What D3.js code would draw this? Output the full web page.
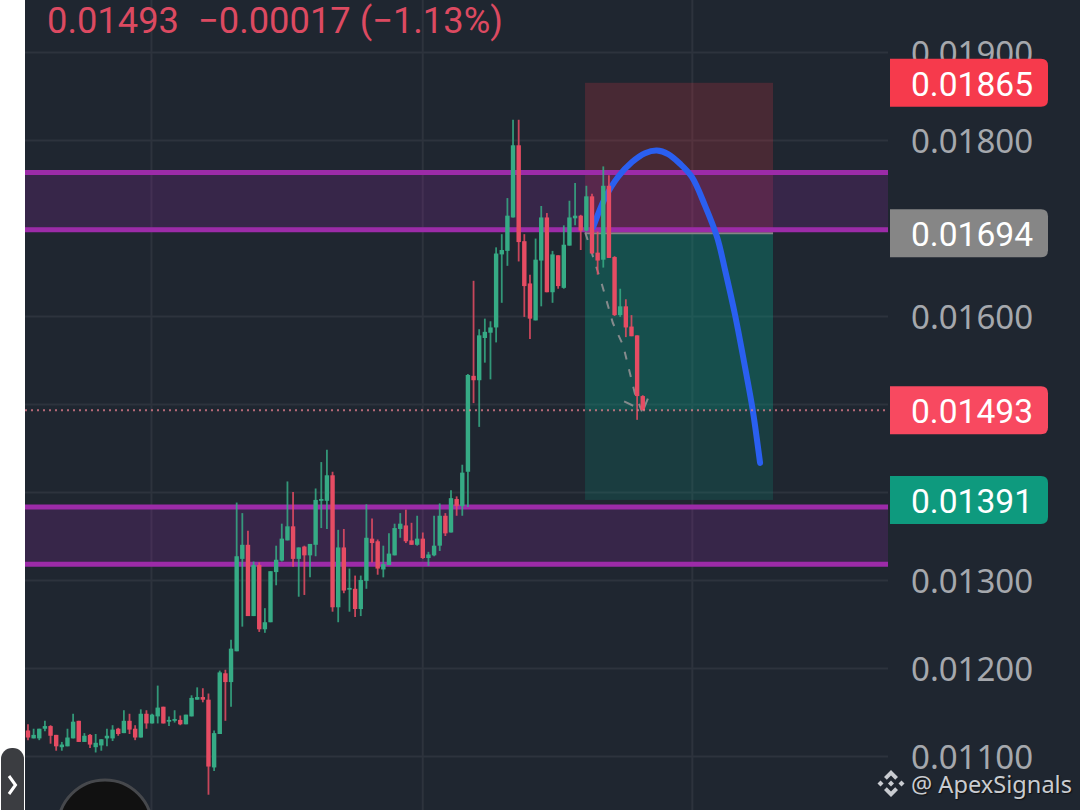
<!DOCTYPE html>
<html lang="en">
<head>
<meta charset="utf-8">
<title>ApexSignals short setup</title>
<script src="https://d3js.org/d3.v7.min.js"></script>
<style>
	body { margin: 0; background: #fff; overflow: hidden; }
	svg { display: block; }
	.ylabels text { font-family: "Noto Sans"; font-size: 33px; fill: #a5a8ad; }
	.ylabels path { display: none; }
	.grid path { display: none; }
	.grid line { stroke: #2d333d; stroke-width: 2; }
	.grid text { display: none; }
</style>
</head>
<body>
<script>
// candles
var opens = [0.01129,0.01120,0.01120,0.01131,0.01134,0.01124,0.01110,0.01111,0.01120,0.01140,
	0.01116,0.01124,0.01110,0.01112,0.01120,0.01120,0.01131,0.01126,0.01140,0.01131,
	0.01121,0.01148,0.01137,0.01145,0.01156,0.01139,0.01140,0.01141,0.01136,0.01145,
	0.01164,0.01167,0.01164,0.01087,0.01125,0.01194,0.01184,0.01219,0.01324,0.01340,
	0.01259,0.01317,0.01244,0.01252,0.01309,0.01322,0.01345,0.01361,0.01324,0.01338,
	0.01328,0.01340,0.01390,0.01390,0.01419,0.01269,0.01337,0.01289,0.01290,0.01267,
	0.01299,0.01347,0.01344,0.01312,0.01317,0.01328,0.01358,0.01362,0.01345,0.01340,
	0.01347,0.01325,0.01328,0.01339,0.01373,0.01354,0.01392,0.01384,0.01423,0.01532,
	0.01527,0.01575,0.01581,0.01587,0.01670,0.01674,0.01712,0.01794,0.01685,0.01637,
	0.01595,0.01663,0.01712,0.01627,0.01669,0.01632,0.01680,0.01711,0.01714,0.01697,
	0.01736,0.01672,0.01664,0.01748,0.01667,0.01601,0.01611,0.01588,0.01578,0.01509];
var highs = [0.01136,0.01131,0.01131,0.01140,0.01135,0.01124,0.01116,0.01131,0.01148,0.01140,
	0.01126,0.01125,0.01125,0.01119,0.01131,0.01135,0.01132,0.01152,0.01148,0.01135,
	0.01153,0.01152,0.01148,0.01180,0.01156,0.01145,0.01152,0.01146,0.01147,0.01169,
	0.01178,0.01177,0.01171,0.01129,0.01197,0.01198,0.01232,0.01388,0.01376,0.01356,
	0.01321,0.01320,0.01268,0.01310,0.01339,0.01364,0.01412,0.01400,0.01337,0.01339,
	0.01341,0.01404,0.01434,0.01448,0.01423,0.01357,0.01358,0.01313,0.01305,0.01305,
	0.01386,0.01370,0.01346,0.01339,0.01353,0.01364,0.01376,0.01380,0.01365,0.01373,
	0.01354,0.01332,0.01373,0.01387,0.01376,0.01402,0.01395,0.01431,0.01534,0.01640,
	0.01585,0.01597,0.01594,0.01678,0.01693,0.01734,0.01823,0.01823,0.01693,0.01647,
	0.01688,0.01725,0.01717,0.01674,0.01669,0.01703,0.01731,0.01751,0.01715,0.01748,
	0.01739,0.01696,0.01770,0.01760,0.01668,0.01631,0.01619,0.01601,0.01578,0.01510];
var lows = [0.01118,0.01120,0.01118,0.01128,0.01114,0.01106,0.01106,0.01111,0.01120,0.01116,
	0.01116,0.01109,0.01104,0.01106,0.01111,0.01117,0.01123,0.01126,0.01125,0.01118,
	0.01121,0.01131,0.01137,0.01137,0.01137,0.01134,0.01138,0.01135,0.01136,0.01145,
	0.01164,0.01161,0.01056,0.01083,0.01125,0.01140,0.01156,0.01219,0.01247,0.01259,
	0.01259,0.01241,0.01240,0.01252,0.01294,0.01321,0.01345,0.01315,0.01281,0.01283,
	0.01303,0.01327,0.01359,0.01358,0.01264,0.01252,0.01285,0.01264,0.01258,0.01259,
	0.01290,0.01320,0.01306,0.01303,0.01317,0.01328,0.01348,0.01342,0.01340,0.01339,
	0.01324,0.01316,0.01327,0.01333,0.01350,0.01354,0.01373,0.01373,0.01383,0.01501,
	0.01474,0.01547,0.01528,0.01570,0.01615,0.01657,0.01712,0.01662,0.01599,0.01574,
	0.01595,0.01611,0.01627,0.01615,0.01631,0.01631,0.01680,0.01703,0.01675,0.01696,
	0.01671,0.01647,0.01655,0.01666,0.01600,0.01599,0.01576,0.01577,0.01482,0.01493];
var closes = [0.01121,0.01124,0.01131,0.01134,0.01123,0.01111,0.01113,0.01121,0.01139,0.01116,
	0.01123,0.01113,0.01115,0.01119,0.01123,0.01130,0.01125,0.01140,0.01130,0.01121,
	0.01148,0.01137,0.01147,0.01155,0.01137,0.01141,0.01142,0.01136,0.01147,0.01166,
	0.01167,0.01164,0.01088,0.01126,0.01195,0.01184,0.01222,0.01327,0.01340,0.01259,
	0.01317,0.01244,0.01252,0.01310,0.01323,0.01347,0.01361,0.01324,0.01337,0.01328,
	0.01341,0.01391,0.01392,0.01419,0.01269,0.01337,0.01288,0.01291,0.01267,0.01300,
	0.01348,0.01342,0.01313,0.01318,0.01330,0.01359,0.01364,0.01344,0.01340,0.01347,
	0.01325,0.01329,0.01339,0.01373,0.01353,0.01393,0.01384,0.01422,0.01533,0.01527,
	0.01578,0.01582,0.01587,0.01671,0.01675,0.01714,0.01794,0.01684,0.01634,0.01597,
	0.01664,0.01712,0.01627,0.01670,0.01634,0.01681,0.01712,0.01714,0.01697,0.01736,
	0.01671,0.01663,0.01748,0.01666,0.01601,0.01611,0.01587,0.01577,0.01509,0.01493];

var yTicks = [0.01100,0.01200,0.01300,0.01400,0.01500,0.01600,0.01700,0.01800,0.01900];
var yLabelTicks = [0.01100,0.01200,0.01300,0.01600,0.01800,0.01900];
var xGrid = [21.8,69.9,117.7];

// support / resistance zones: [top, bottom]
var zoneUpper = [0.01763,0.01698];
var zoneLower = [0.01383,0.01318];

// short position tool
var stopPrice = 0.01865, entryPrice = 0.01694, targetPrice = 0.01391, lastPrice = 0.01493;
var posStart = 98.76, posEnd = 132.1;

// projected path (blue)
var curveIdx = [100.2,102.3,104.6,107.1,109.4,111.5,113.5,115.6,117.7,120,122.2,123.6,125.4,127.3,128.5,129.8];
var curvePrice = [0.01701,0.01734,0.01758,0.01775,0.01785,0.01788,0.01784,0.01773,0.01758,0.01726,0.01689,0.01652,0.01600,0.01536,0.01493,0.01433];

// dashed arrow
var arrowIdx = [98.8,101.8,103.7,105.5,107.6,108.9];
var arrowPrice = [0.01695,0.01635,0.01592,0.01567,0.01512,0.01491];
var headIdx = [[105.7,107.3],[109.9,109.2]];
var headPrice = [[0.01503,0.01498],[0.01506,0.01495]];

// right hand price tags
var tagValues = [stopPrice,entryPrice,lastPrice,targetPrice];
var tagColors = ["#f63a4c","#868686","#f84960","#0e9a7e"];

var width = 1080, height = 810;
var left = 25, right = 888;

var svg = d3.select("body").append("svg")
	.attr("width", width)
	.attr("height", height);

var x = d3.scaleLinear().domain([-0.53,152.48]).range([left,right]);
var y = d3.scaleLinear().domain([0.01100,0.01900]).range([756,52]);
var fmt = d3.format(".5f");

svg.append("rect").attr("x",left).attr("y",0).attr("width",width-left).attr("height",height).attr("fill","#1f2630");

// grid
svg.append("g").attr("class","grid")
	.attr("transform","translate(0,0)")
	.call(d3.axisBottom(x).tickValues(xGrid).tickSize(height).tickFormat(""));
svg.append("g").attr("class","grid")
	.attr("transform","translate("+right+",0)")
	.call(d3.axisLeft(y).tickValues(yTicks).tickSize(right-left).tickFormat(""));

// position boxes
var posW = x(posEnd)-x(posStart);
svg.append("rect").attr("x",x(posStart)).attr("width",posW)
	.attr("y",y(stopPrice)).attr("height",y(entryPrice)-y(stopPrice))
	.attr("fill","#f23645").attr("fill-opacity",0.2);
svg.append("rect").attr("x",x(posStart)).attr("width",posW)
	.attr("y",y(entryPrice)).attr("height",y(targetPrice)-y(entryPrice))
	.attr("fill","#089981").attr("fill-opacity",0.2);
svg.append("rect").attr("x",x(posStart)).attr("width",posW)
	.attr("y",y(entryPrice)).attr("height",y(lastPrice)-y(entryPrice))
	.attr("fill","#089981").attr("fill-opacity",0.2);
svg.append("line").attr("x1",x(posStart)).attr("x2",x(posEnd))
	.attr("y1",y(entryPrice)).attr("y2",y(entryPrice))
	.attr("stroke","#868686").attr("stroke-width",2);

// purple zones
[zoneUpper,zoneLower].forEach(function(z) {
	svg.append("rect").attr("x",left).attr("width",right-left)
		.attr("y",y(z[0])).attr("height",y(z[1])-y(z[0]))
		.attr("fill","#9c27b0").attr("fill-opacity",0.2);
	z.forEach(function(v) {
		svg.append("line").attr("x1",left).attr("x2",right)
			.attr("y1",y(v)).attr("y2",y(v))
			.attr("stroke","#9c2ba8").attr("stroke-width",5);
	});
});

// blue projection, under the candles
svg.append("path")
	.attr("d", d3.line()
		.x(function(d) { return x(d[0]); })
		.y(function(d) { return y(d[1]); })
		.curve(d3.curveCatmullRom)(d3.zip(curveIdx,curvePrice)))
	.attr("fill","none").attr("stroke","#2a5ff0")
	.attr("stroke-width",6).attr("stroke-linecap","round");

// dashed arrow
var arrowLine = d3.line()
	.x(function(d) { return x(d[0]); })
	.y(function(d) { return y(d[1]); });
svg.append("path")
	.attr("d", arrowLine(d3.zip(arrowIdx,arrowPrice)))
	.attr("fill","none").attr("stroke","#858a8c")
	.attr("stroke-width",2).attr("stroke-dasharray","8,10");
headIdx.forEach(function(h,k) {
	svg.append("path")
		.attr("d", arrowLine(d3.zip(h,headPrice[k])))
		.attr("fill","none").attr("stroke","#858a8c").attr("stroke-width",2);
});

// candles
var upColor = "#36ab85", downColor = "#e64c63";
function candleColor(i) { return closes[i] >= opens[i] ? upColor : downColor; }

svg.selectAll(".wick")
	.data(closes)
	.enter()
	.append("line")
	.attr("class","wick")
	.attr("x1", function(d,i) { return x(i); })
	.attr("x2", function(d,i) { return x(i); })
	.attr("y1", function(d,i) { return y(highs[i]); })
	.attr("y2", function(d,i) { return y(lows[i]); })
	.attr("stroke", function(d,i) { return candleColor(i); })
	.attr("stroke-width",1.8)
	.attr("stroke-opacity",0.85);

svg.selectAll(".body")
	.data(closes)
	.enter()
	.append("rect")
	.attr("class","body")
	.attr("x", function(d,i) { return x(i)-2.2; })
	.attr("width",4.4)
	.attr("y", function(d,i) { return y(Math.max(opens[i],closes[i])); })
	.attr("height", function(d,i) { return Math.max(1.5, Math.abs(y(opens[i])-y(closes[i]))); })
	.attr("fill", function(d,i) { return candleColor(i); });

// last price line
svg.append("line").attr("x1",left).attr("x2",right)
	.attr("y1",y(lastPrice)).attr("y2",y(lastPrice))
	.attr("stroke","#e9808f").attr("stroke-opacity",0.75)
	.attr("stroke-width",2).attr("stroke-dasharray","2,4");

// y axis labels
svg.append("g").attr("class","ylabels")
	.attr("transform","translate("+right+",0)")
	.call(d3.axisRight(y).tickValues(yLabelTicks).tickFormat(fmt).tickSize(0).tickPadding(23))
	.selectAll("text").attr("text-anchor","start").attr("dy","0.37em");

// price tags
tagValues.forEach(function(v,i) {
	var top = y(v)-24, r = 7;
	svg.append("path")
		.attr("d","M890,"+top+"H"+(1048-r)+"Q1048,"+top+" 1048,"+(top+r)+"V"+(top+48-r)+"Q1048,"+(top+48)+" "+(1048-r)+","+(top+48)+"H890Z")
		.attr("fill",tagColors[i]);
	svg.append("text")
		.attr("x",911).attr("y",y(v)+13)
		.attr("font-family","Roboto").attr("font-size",33.6)
		.attr("fill","#fff")
		.text(fmt(v));
});

// header
var header = svg.append("g").attr("font-family","Roboto").attr("font-size",36.3).attr("fill","#dc4a61");
header.append("text").attr("x",47).attr("y",33).text(fmt(lastPrice));
header.append("text").attr("x",198).attr("y",33).text("\u22120.00017 (\u22121.13%)");

// watermark
var logo = svg.append("g").attr("transform","translate(891,783.5)").attr("fill","#c9ccd1");
logo.append("path").attr("d","M0,-13.5L7,-6.5L4.2,-3.7L0,-8L-4.2,-3.7L-7,-6.5Z");
logo.append("path").attr("d","M0,13.5L7,6.5L4.2,3.7L0,8L-4.2,3.7L-7,6.5Z");
logo.append("path").attr("d","M-13.5,0L-10.5,-3L-7.5,0L-10.5,3Z");
logo.append("path").attr("d","M13.5,0L10.5,-3L7.5,0L10.5,3Z");
logo.append("path").attr("d","M0,-3L3,0L0,3L-3,0Z");
svg.append("text").attr("x",911).attr("y",793)
	.attr("font-family","Noto Sans").attr("font-size",23.6)
	.attr("fill","#c9ccd1")
	.style("text-shadow","1px 1px 1px #111")
	.text("@ ApexSignals");

// app chrome: round button and side handle
svg.append("circle").attr("cx",105).attr("cy",827).attr("r",47)
	.attr("fill","#111").attr("stroke","#46484c").attr("stroke-width",3);
svg.append("rect").attr("x",1).attr("y",748).attr("width",23).attr("height",80).attr("rx",11)
	.attr("fill","#3b3d41");
svg.append("path").attr("d","M9,776L15.5,785L9,794")
	.attr("fill","none").attr("stroke","#fff").attr("stroke-width",3);
</script>
</body>
</html>
